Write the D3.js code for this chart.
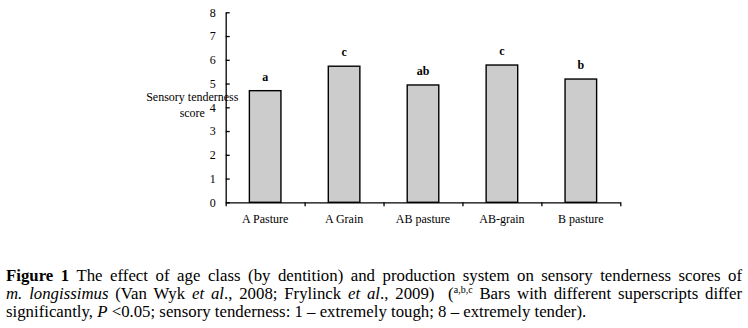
<!DOCTYPE html>
<html>
<head>
<meta charset="utf-8">
<script src="https://cdn.jsdelivr.net/npm/d3@7"></script>
<style>
  body { margin: 0; background: #fff; }
  #wrap { position: relative; width: 748px; height: 328px; overflow: hidden; }
  svg text { font-family: "Liberation Serif", "Times New Roman", serif; fill: #000; }
  .caption { position: absolute; left: 6px; top: 267px; width: 736px;
    font-family: "Liberation Serif", "Times New Roman", serif; font-size: 16.8px; color: #000; }
  .caption .line { height: 18px; line-height: 18px; white-space: nowrap; }
  .caption .just { text-align: justify; text-align-last: justify; }
  .caption sup { font-size: 10px; line-height: 0; vertical-align: 6px; }
</style>
</head>
<body>
<div id="wrap"></div>
<script>
const categories = ["A Pasture", "A Grain", "AB pasture", "AB-grain", "B pasture"];
const scores = [4.70, 5.73, 4.94, 5.78, 5.19];
const letters = ["a", "c", "ab", "c", "b"];
const yTicks = [0, 1, 2, 3, 4, 5, 6, 7, 8];

const width = 748, height = 328;
const margin = { top: 12.3, left: 225.7, right: 127.7, bottom: 125.7 };

const svg = d3.select("#wrap").append("svg")
  .attr("width", width)
  .attr("height", height)
  .style("position", "absolute")
  .style("left", 0).style("top", 0);

const x = d3.scaleBand()
  .domain(categories)
  .range([margin.left, width - margin.right])
  .paddingInner(0.6)
  .paddingOuter(0.3);

const y = d3.scaleLinear()
  .domain([0, 8])
  .range([height - margin.bottom, margin.top]);

// bars
svg.selectAll("rect.bar")
  .data(categories)
  .enter().append("rect")
  .attr("class", "bar")
  .attr("x", d => x(d))
  .attr("y", (d, i) => y(scores[i]))
  .attr("width", x.bandwidth())
  .attr("height", (d, i) => y(0) - y(scores[i]))
  .attr("fill", "#cccccc")
  .attr("stroke", "#000")
  .attr("stroke-width", 1.4);

// significance letters
svg.selectAll("text.sig")
  .data(categories)
  .enter().append("text")
  .attr("class", "sig")
  .attr("x", d => x(d) + x.bandwidth() / 2)
  .attr("y", (d, i) => y(scores[i]) - 10)
  .attr("text-anchor", "middle")
  .attr("font-size", 12)
  .attr("font-weight", "bold")
  .text((d, i) => letters[i]);

// y axis, ticks pointing inward
const yAxis = svg.append("g")
  .attr("transform", `translate(${margin.left},0)`)
  .call(d3.axisLeft(y).tickValues(yTicks).tickSizeInner(-4).tickSizeOuter(0).tickPadding(10));
yAxis.selectAll("text").attr("font-size", 12).attr("font-family", null);
yAxis.selectAll("line, path").attr("stroke", "#000").attr("stroke-width", 1.3);

// x axis: ticks on category boundaries
const xb = d3.scaleLinear().domain([0, categories.length]).range(x.range());
const xAxis = svg.append("g")
  .attr("transform", `translate(0,${y(0)})`)
  .call(d3.axisBottom(xb).ticks(categories.length).tickSizeInner(4).tickSizeOuter(0).tickFormat(""));
xAxis.selectAll("line, path").attr("stroke", "#000").attr("stroke-width", 1.3);

// category labels
svg.selectAll("text.cat")
  .data(categories)
  .enter().append("text")
  .attr("class", "cat")
  .attr("x", d => x(d) + x.bandwidth() / 2)
  .attr("y", y(0) + 21)
  .attr("text-anchor", "middle")
  .attr("font-size", 12)
  .text(d => d);

// y axis title (overlaps the 4 label, as in the original)
const yTitle = svg.append("text")
  .attr("x", 192.3)
  .attr("y", 100.5)
  .attr("text-anchor", "middle")
  .attr("font-size", 12);
yTitle.append("tspan").attr("x", 192.3).text("Sensory tenderness");
yTitle.append("tspan").attr("x", 192.3).attr("dy", 16).text("score");

// caption
const cap = d3.select("#wrap").append("div").attr("class", "caption");
cap.append("div").attr("class", "line just")
  .html("<b>Figure 1</b> The effect of age class (by dentition) and production system on sensory tenderness scores of");
cap.append("div").attr("class", "line just")
  .html("<i>m. longissimus</i> (Van Wyk <i>et al</i>., 2008; Frylinck <i>et al</i>., 2009)&nbsp; (<sup>a,b,c</sup> Bars with different superscripts differ");
cap.append("div").attr("class", "line")
  .html("significantly, <i>P</i> &lt;0.05; sensory tenderness: 1 – extremely tough; 8 – extremely tender).");
</script>
</body>
</html>
